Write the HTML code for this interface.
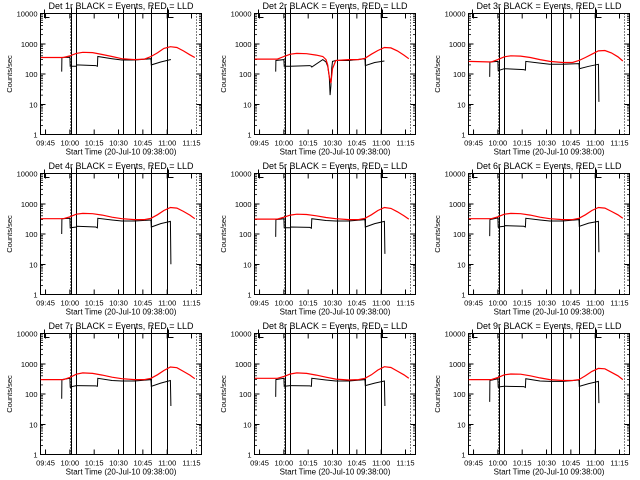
<!DOCTYPE html>
<html><head><meta charset="utf-8"><style>
html,body{margin:0;padding:0;background:#fff;}
svg{display:block;font-family:"Liberation Sans",sans-serif;}
</style></head><body>
<svg id="chart" width="640" height="480" viewBox="0 0 640 480"></svg>
<script>
const tickMinutes=[45,60,75,90,105,120,135];
const tickLabels=["09:45","10:00","10:15","10:30","10:45","11:00","11:15"];
const yTickVals=[1,10,100,1000,10000];
const yTickLabels=["1","10","100","1000","10000"];
const solidLines=[60.6,63.5,92.5,99.9,110.3,119.6];
const dottedLines=[60,137.5];
const markerTimes=[43.8,120.8];
const redT=[42,56,60,64,68,74,80,86,92,100,106,110,114,118,122,126,130,134,137];
const red1=[350,350,400,480,520,510,440,380,320,300,310,380,500,700,800,750,580,430,350];
const red3=[260,250,300,370,400,390,350,300,260,240,240,280,350,450,580,600,500,370,270];
const red4=[320,320,370,450,480,470,420,360,320,300,300,330,430,600,750,720,560,420,320];
const red5=[310,310,360,420,450,440,400,350,320,300,300,330,430,600,750,700,540,400,310];
const red6=[320,320,370,450,480,470,420,360,320,300,300,330,430,600,750,720,560,430,330];
const red7=[300,300,350,450,500,480,420,360,320,300,300,330,430,600,780,740,560,420,320];
const red8=[330,330,380,460,500,480,420,360,310,290,300,330,430,620,800,750,570,430,330];
const red9=[300,300,350,430,460,450,400,340,300,280,280,300,400,560,700,680,520,400,300];
const red2T=[42,56,60,64,68,74,80,84,86,87,88,89,90,92,100,106,110,114,118,122,126,130,134,137];
const red2=[310,310,380,450,480,470,420,380,300,200,80,50,150,280,300,300,330,450,600,750,730,580,420,320];
const blkT=[55,55.1,60,60.2,64,64.2,76,77,77.2,86,92,100,110,110.2,116,122,122.3];
const blk1=[120,350,360,180,180,200,190,180,380,320,290,290,320,200,250,300,300];
const blk3=[80,250,260,130,150,150,140,135,260,230,210,210,220,150,180,210,12];
const blk4=[100,320,330,160,170,180,170,160,330,290,270,270,290,170,220,260,10];
const blk5=[80,300,320,160,160,170,165,155,320,280,270,270,300,170,220,260,22];
const blk6=[85,300,340,170,180,190,180,170,330,290,270,270,300,180,230,260,25];
const blk7=[70,300,330,170,190,190,185,180,330,280,270,270,300,180,230,280,40];
const blk8=[80,300,330,180,190,190,185,180,330,290,270,270,300,190,230,270,40];
const blk9=[55,280,320,170,180,180,175,165,320,270,260,260,290,180,220,260,50];
const blk2T=[55,55.1,60,60.2,64,76,77,77.2,84,86,87,88,88.5,89,89.5,90,92,100,110,110.2,116,122];
const blk2=[120,280,300,180,180,190,180,170,300,250,180,80,20,40,150,260,280,280,320,190,240,270];

const panels=[
 {n:1,rt:redT,rv:red1,bt:blkT,bv:blk1},{n:2,rt:red2T,rv:red2,bt:blk2T,bv:blk2},{n:3,rt:redT,rv:red3,bt:blkT,bv:blk3},
 {n:4,rt:redT,rv:red4,bt:blkT,bv:blk4},{n:5,rt:redT,rv:red5,bt:blkT,bv:blk5},{n:6,rt:redT,rv:red6,bt:blkT,bv:blk6},
 {n:7,rt:redT,rv:red7,bt:blkT,bv:blk7},{n:8,rt:redT,rv:red8,bt:blkT,bv:blk8},{n:9,rt:redT,rv:red9,bt:blkT,bv:blk9}];
const NS="http://www.w3.org/2000/svg";
const svg=document.getElementById('chart');
function mk(tag,attrs,parent){const e=document.createElementNS(NS,tag);for(const k in attrs)e.setAttribute(k,attrs[k]);parent.appendChild(e);return e;}
panels.forEach((p,i)=>{
 const ox=[0,214,428][i%3], oy=Math.floor(i/3)*160;
 const L=ox+40.5,R=ox+201.5,T=oy+13.5,B=oy+134.5;
 const xs=t=>L+(t-41.9)*1.622;
 const ys=v=>B-Math.log10(v)*(B-T)/4;
 const g=mk('g',{},svg);
 
 
 const fr=mk('rect',{x:L,y:T,width:R-L,height:B-T,fill:'none',stroke:'#000','stroke-width':1,'shape-rendering':'crispEdges'},g);
 
 
 const ti=mk('text',{x:(L+R)/2,y:oy+9,'font-size':9,'text-anchor':'middle'},g);
 ti.textContent='Det '+p.n+'r BLACK = Events, RED = LLD';
 
 
 yTickVals.forEach((v,k)=>{
  const y=ys(v);
  mk('line',{x1:L,x2:L+5,y1:y,y2:y,stroke:'#000','shape-rendering':'crispEdges'},g);
  mk('line',{x1:R,x2:R-5,y1:y,y2:y,stroke:'#000','shape-rendering':'crispEdges'},g);
  const t=mk('text',{x:L-3,y:y+3,'font-size':7.5,'text-anchor':'end'},g);
  t.textContent=yTickLabels[k];
  
  
  if(k<4)for(let m=2;m<10;m++){const ym=ys(v*m);
   mk('line',{x1:L,x2:L+2.5,y1:ym,y2:ym,stroke:'#000','stroke-width':0.8},g);
   mk('line',{x1:R,x2:R-2.5,y1:ym,y2:ym,stroke:'#000','stroke-width':0.8},g);}
 });
 tickMinutes.forEach((m,k)=>{
  const x=xs(m);
  mk('line',{x1:x,x2:x,y1:B,y2:B-5,stroke:'#000'},g);
  mk('line',{x1:x,x2:x,y1:T,y2:T+5,stroke:'#000'},g);
  const t=mk('text',{x:x,y:B+11,'font-size':7.5,'text-anchor':'middle'},g);
  t.textContent=tickLabels[k];
  
  
 });
 const xt=mk('text',{x:(L+R)/2,y:B+20,'font-size':8,'text-anchor':'middle'},g);
 xt.textContent='Start Time (20-Jul-10 09:38:00)';
 
 
 const yt=mk('text',{x:0,y:0,'font-size':7.5,'text-anchor':'middle',transform:'translate('+(ox+12)+','+((T+B)/2)+') rotate(-90)'},g);
 yt.textContent='Counts/sec';
 
 
 solidLines.forEach(t=>{const x=Math.round(xs(t))+0.5;
  const l=mk('line',{x1:x,x2:x,y1:T-6,y2:B,stroke:'#000','stroke-width':1,'shape-rendering':'crispEdges'},g);
  
  });
 dottedLines.forEach(t=>{const x=Math.round(xs(t))+0.5;
  const l=mk('line',{x1:x,x2:x,y1:T,y2:B,stroke:'#000','stroke-dasharray':'1,2','shape-rendering':'crispEdges'},g);
  
  });
 markerTimes.forEach(t=>{const x=Math.round(xs(t))+0.5;
  const l=mk('path',{d:'M'+x+' '+(T-4)+' V'+(T+4)+' H'+(x+5),fill:'none',stroke:'#000','shape-rendering':'crispEdges'},g);
  
  });
 const bl=mk('polyline',{points:p.bt.map((t,k)=>xs(t).toFixed(1)+','+ys(p.bv[k]).toFixed(1)).join(' '),fill:'none',stroke:'#000','stroke-width':1},g);
 
 
 const rl=mk('polyline',{points:p.rt.map((t,k)=>xs(t).toFixed(1)+','+ys(p.rv[k]).toFixed(1)).join(' '),fill:'none',stroke:'#ff0000','stroke-width':1.2},g);
 
 
});
</script>
</body></html>
